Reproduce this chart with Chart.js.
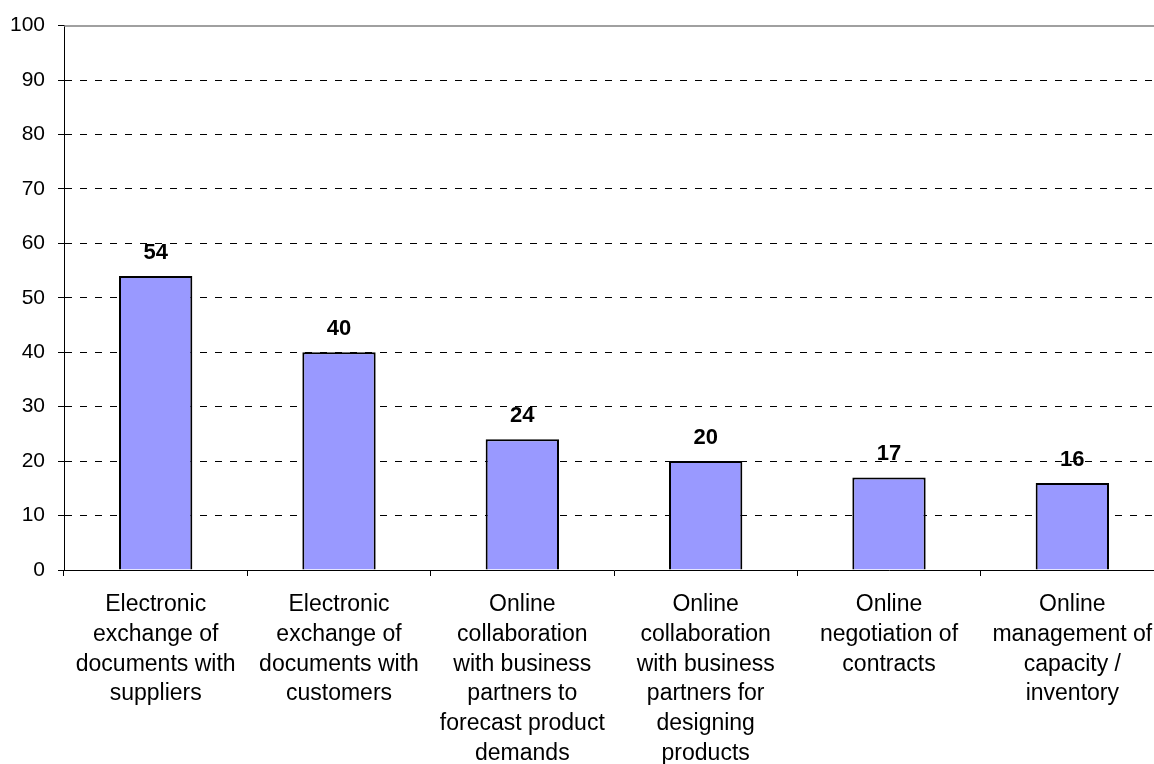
<!DOCTYPE html>
<html>
<head>
<meta charset="utf-8">
<style>
  html, body { margin: 0; padding: 0; background: #fff; overflow: hidden; }
  #wrap { width: 1154px; height: 764px; overflow: hidden; }
  canvas { display: block; }
</style>
<script src="https://cdn.jsdelivr.net/npm/chart.js@4/dist/chart.umd.min.js"></script>
</head>
<body>
<div id="wrap"><canvas id="c" width="1170" height="764"></canvas></div>
<script>
// Category labels, one line per array entry
const categories = [
  ["Electronic", "exchange of", "documents with", "suppliers"],
  ["Electronic", "exchange of", "documents with", "customers"],
  ["Online", "collaboration", "with business", "partners to", "forecast product", "demands"],
  ["Online", "collaboration", "with business", "partners for", "designing", "products"],
  ["Online", "negotiation of", "contracts"],
  ["Online", "management of", "capacity /", "inventory"]
];

// Share of firms (%)
const values = [54, 40, 24, 20, 17, 16];

// Value axis ticks
const yMin = 0;
const yMax = 100;
const yStep = 10;

const FONT = "'Liberation Sans', Arial, sans-serif";

// Solid grey line along the top of the plot area
const topBorder = {
  id: 'topBorder',
  beforeDatasetsDraw(chart) {
    const { ctx, chartArea } = chart;
    ctx.save();
    ctx.strokeStyle = '#808080';
    ctx.lineWidth = 1.5;
    ctx.beginPath();
    ctx.moveTo(chartArea.left, chartArea.top + 0.5);
    ctx.lineTo(chartArea.right, chartArea.top + 0.5);
    ctx.stroke();
    ctx.restore();
  }
};

// Bold value printed above each bar
const valueLabels = {
  id: 'valueLabels',
  afterDatasetsDraw(chart) {
    const { ctx } = chart;
    const meta = chart.getDatasetMeta(0);
    ctx.save();
    ctx.font = "bold 22px " + FONT;
    ctx.fillStyle = '#000';
    ctx.textAlign = 'center';
    ctx.textBaseline = 'alphabetic';
    meta.data.forEach((bar, i) => {
      ctx.fillText(String(values[i]), bar.x, bar.y - 17);
    });
    ctx.restore();
  }
};

new Chart(document.getElementById('c'), {
  type: 'bar',
  data: {
    labels: categories,
    datasets: [{
      data: values,
      backgroundColor: '#9999FF',
      borderColor: '#000',
      borderWidth: 2,
      categoryPercentage: 1,
      barPercentage: 0.4
    }]
  },
  options: {
    responsive: false,
    animation: false,
    devicePixelRatio: 1,
    layout: { padding: { top: 24, right: 6, bottom: 0, left: 0 } },
    plugins: {
      legend: { display: false },
      tooltip: { enabled: false }
    },
    scales: {
      x: {
        grid: {
          offset: true,
          drawOnChartArea: false,
          drawTicks: true,
          tickLength: 6,
          tickColor: '#000',
          tickWidth: 1
        },
        border: { display: true, color: '#000', width: 1 },
        ticks: {
          autoSkip: false,
          maxRotation: 0,
          minRotation: 0,
          padding: 14,
          color: '#000',
          font: { family: FONT, size: 23, lineHeight: 1.29 }
        },
        afterFit(scale) { scale.height = 194; }
      },
      y: {
        min: yMin,
        max: yMax,
        grid: {
          color: (c) => (c.tick && c.tick.value === yMax) ? 'rgba(0,0,0,0)' : '#000',
          lineWidth: 1,
          drawTicks: true,
          tickLength: 6,
          tickColor: '#000',
          tickWidth: 1,
          tickBorderDash: []
        },
        border: { display: true, color: '#000', width: 1, dash: [7, 8] },
        ticks: {
          stepSize: yStep,
          padding: 13,
          color: '#000',
          font: { family: FONT, size: 21 }
        },
        afterFit(scale) { scale.width = 64; }
      }
    }
  },
  plugins: [topBorder, valueLabels]
});
</script>
</body>
</html>
